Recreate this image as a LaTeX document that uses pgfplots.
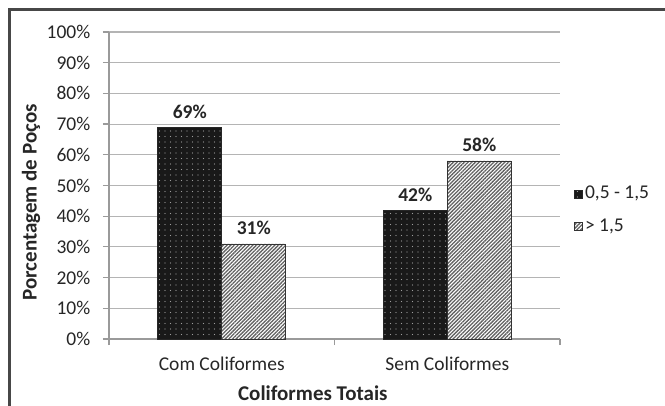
\documentclass[border=0pt]{standalone}
\usepackage{fontspec}
\setmainfont{Carlito}
\usepackage{pgfplots}
\pgfplotsset{compat=1.18}
\usetikzlibrary{patterns.meta}

\definecolor{txt}{HTML}{262626}
\definecolor{gridc}{HTML}{B4B4B4}
\definecolor{axisc}{HTML}{9A9A9A}

\newcommand{\lbl}{\fontsize{19.5bp}{23bp}\selectfont}
\newcommand{\ttl}{\bfseries\fontsize{21bp}{25bp}\selectfont}

\begin{document}
\begin{tikzpicture}
\lbl
\useasboundingbox (0,0) rectangle (665bp,406bp);
% outer frame
\draw[line width=3bp, black!72] (9.5bp,-2bp) -- (9.5bp,396bp) -- (667bp,396bp);

\begin{axis}[
  at={(109bp,67bp)}, anchor=south west,
  scale only axis, width=451bp, height=307bp,
  ymin=0, ymax=100, xmin=-0.5, xmax=1.5,
  ytick={0,10,...,100},
  yticklabel={\pgfmathprintnumber{\tick}\%},
  /pgf/number format/assume math mode=true,
  xtick={-0.5,0.5,1.5}, xticklabels={},
  extra x ticks={0,1},
  extra x tick labels={Com Coliformes, Sem Coliformes},
  extra x tick style={major tick length=0pt, tick style={draw=none}},
  axis x line*=bottom, axis y line*=left,
  axis line style={-, draw=axisc, line width=1.2bp},
  tick style={draw=axisc, line width=1.2bp},
  tick align=outside, major tick length=6bp,
  ymajorgrids, grid style={draw=gridc, line width=1.1bp},
  ticklabel style={font=\lbl, text=txt},
  yticklabel style={xshift=-6bp},
  xticklabel style={yshift=-11bp},
  ylabel={Porcentagem de Poços},
  ylabel style={font=\ttl, text=txt, at={(rel axis cs:-0.1729,0.445)}, anchor=center},
  xlabel={Coliformes Totais},
  xlabel style={font=\ttl, text=txt, at={(rel axis cs:0.452,0)}, anchor=base, yshift=-61bp},
  ybar=0pt, bar width=64bp,
  nodes near coords={\pgfmathprintnumber[fixed,precision=0]{\pgfplotspointmeta}\%},
  nodes near coords style={font=\bfseries\lbl, text=txt, yshift=2bp},
  legend style={at={(rel axis cs:1.025,0.42)}, anchor=west, draw=none, fill=none,
    font=\lbl, text=txt, row sep=13bp,
    /tikz/every even column/.append style={column sep=3bp}},
  legend cell align=left,
  legend image code/.code={\draw[#1] (0bp,-4bp) rectangle (8bp,4bp);},
]
\addplot[fill=black!90, draw=black!85, line width=0.6bp,
  postaction={pattern color=gray!75, pattern={Dots[distance=5.5bp, radius=0.6bp]}}]
  coordinates {(0,69) (1,42)};
\addplot[fill=white, draw=black!80, line width=0.6bp,
  postaction={pattern color=black!62, pattern={Lines[angle=45, distance=2.6bp, line width=1.3bp]}}]
  coordinates {(0,31) (1,58)};
\legend{{0,5 - 1,5}, {> 1,5}}
\end{axis}
\end{tikzpicture}
\end{document}
